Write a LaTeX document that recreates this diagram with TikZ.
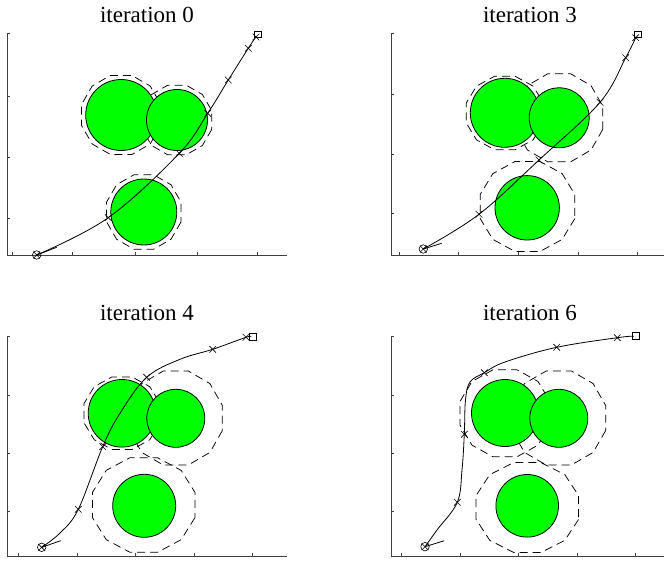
\documentclass[tikz,border=0pt]{standalone}
\usepackage{fontspec}
\setmainfont{Liberation Serif}
\usetikzlibrary{shapes.misc}

\definecolor{obsgreen}{RGB}{0,255,0}

% dashed hull round an obstacle: centre x, centre y, x radius, y radius
\newcommand{\hullpoly}[4]{%
  \draw[hull, shift={(#1,#2)}] (15:#3 and #4)
    \foreach \a in {45,75,...,345} { -- (\a:#3 and #4)} -- cycle;}

\begin{document}
\begin{tikzpicture}[x=1pt, y=-1pt,
    axis/.style={black!75, line width=0.7pt},
    hull/.style={black, line width=0.75pt, dash pattern=on 8pt off 5pt},
    obstacle/.style={draw=black, fill=obsgreen, line width=0.8pt},
    traj/.style={black, line width=0.8pt},
    wp/.style={draw, cross out, minimum size=6pt, inner sep=0pt, line width=0.6pt},
    startpt/.style={draw, circle, minimum size=8.5pt, inner sep=0pt, line width=0.6pt},
    goal/.style={draw, rectangle, minimum size=6.5pt, inner sep=0pt, line width=0.6pt},
    title/.style={font=\fontsize{23}{27}\selectfont}]

\useasboundingbox (0,0) rectangle (664,561);

% ---------------- iteration 0 ----------------
\node[title] (t0) at (147,15) {iteration 0};
\draw[axis] (7.3,33) -- (7.3,255) -- (287,255);
\foreach \y in {33,96,157,218} \draw[axis] (7.3,\y) -- ++(3,0);
\foreach \x in {12.7,72.7,135,197,257} \draw[axis] (\x,255) -- ++(0,-3);
\hullpoly{121.2}{115}{41}{41}
\hullpoly{177}{120}{36}{36}
\hullpoly{143.8}{212}{38.5}{38.5}
\draw[obstacle] (121.2,115) circle[radius=35.5pt];
\draw[obstacle] (177,120) circle[radius=30.5pt];
\draw[obstacle] (143.8,212) circle[radius=33pt];
\draw[traj] plot[smooth, tension=0.6] coordinates
  {(36.7,255) (108.3,217.7) (179.3,153.3) (207.7,113.3) (228.3,80) (248.3,48.3) (256.5,36)};
\draw[traj] (36.7,255) -- (56.7,247.3);
\node[startpt] (s0) at (36.7,255) {};
\node[wp] (x0) at (36.7,255) {};
\foreach \p [count=\i] in {(108.3,217.7),(179.3,153.3),(207.7,113.3),(228.3,80),(248.3,48.3),(256,37)}
  \node[wp] (a\i) at \p {};
\node[goal] (g0) at (257.7,34.3) {};

% ---------------- iteration 3 ----------------
\node[title] (t3) at (530,15) {iteration 3};
\draw[axis] (391.3,33) -- (391.3,255) -- (664,255);
\foreach \y in {33,94.3,154,213.3} \draw[axis] (391.3,\y) -- ++(3,0);
\foreach \x in {399,458.3,518.3,578.3,637.7} \draw[axis] (\x,255) -- ++(0,-3);
\hullpoly{504.8}{113}{40}{38}
\hullpoly{559.2}{117.8}{45}{45.5}
\hullpoly{527.5}{206.5}{49}{46.5}
\draw[obstacle] (504.8,112.8) circle[radius=34.5pt];
\draw[obstacle] (559.2,117.8) circle[radius=30pt];
\draw[obstacle] (527.2,207.8) circle[radius=32.2pt];
\draw[traj] plot[smooth, tension=0.6] coordinates
  {(423.3,249) (479,214.3) (539,160) (600,102.3) (625.7,57.7) (635.7,37.7)};
\draw[traj] (423.3,249) -- (441.7,243.3);
\node[startpt] (s3) at (423.3,249) {};
\node[wp] (x3) at (423.3,249) {};
\foreach \p [count=\i] in {(479,214.3),(539,160),(600,102.3),(625.7,57.7),(635.7,37.7)}
  \node[wp] (b\i) at \p {};
\node[goal] (g3) at (637.7,34.3) {};

% ---------------- iteration 4 ----------------
\node[title] (t4) at (147,313) {iteration 4};
\draw[axis] (7.3,336.7) -- (7.3,556) -- (287,556);
\foreach \y in {336.7,395,453.3,511.7} \draw[axis] (7.3,\y) -- ++(3,0);
\foreach \x in {18.3,77.3,135.7,194,252.3} \draw[axis] (\x,556) -- ++(0,-3);
\hullpoly{122}{413.2}{39.3}{37.5}
\hullpoly{175.8}{418}{48.2}{48.7}
\hullpoly{143.7}{505}{53}{49}
\draw[obstacle] (122,413.3) circle[radius=33.8pt];
\draw[obstacle] (175.8,418.3) circle[radius=29pt];
\draw[obstacle] (144.2,505.8) circle[radius=31.5pt];
\draw[traj] plot[smooth, tension=0.6] coordinates
  {(41.7,547.3) (60,533) (78.3,509.3) (102.7,446.7) (120,413.3) (146.7,377.3) (180,359.3) (212.7,349.3) (246,337.3) (251,336.7)};
\draw[traj] (41.7,547.3) -- (60.7,540.7);
\node[startpt] (s4) at (41.7,547.3) {};
\node[wp] (x4) at (41.7,547.3) {};
\foreach \p [count=\i] in {(78.3,509.3),(102.7,446.7),(146.7,377.3),(212.7,349.3),(246,337.3)}
  \node[wp] (c\i) at \p {};
\node[goal] (g4) at (252.7,336.7) {};

% ---------------- iteration 6 ----------------
\node[title] (t6) at (530,313) {iteration 6};
\draw[axis] (391.3,336.7) -- (391.3,556) -- (664,556);
\foreach \y in {336.7,395,453.3,511.7} \draw[axis] (391.3,\y) -- ++(3,0);
\foreach \x in {401.3,460.3,518.7,577,635.3} \draw[axis] (\x,556) -- ++(0,-3);
\hullpoly{505}{413.3}{46.7}{45}
\hullpoly{558.8}{418}{48.5}{48.7}
\hullpoly{527.3}{507.5}{53}{46.5}
\draw[obstacle] (505,413) circle[radius=33.5pt];
\draw[obstacle] (558.8,418.3) circle[radius=29pt];
\draw[obstacle] (527.2,505.8) circle[radius=31.3pt];
\draw[traj] plot[smooth, tension=0.6] coordinates
  {(425,546.7) (437,530) (457.3,502.3) (462,470) (464.3,434.3) (465.5,400) (470,382) (484.3,372.7) (505,362) (556.7,347.3) (617.3,337.7) (634,336.2)};
\draw[traj] (425,546.7) -- (444.3,540.7);
\node[startpt] (s6) at (425,546.7) {};
\node[wp] (x6) at (425,546.7) {};
\foreach \p [count=\i] in {(457.3,502.3),(464.3,434.3),(484.3,372.7),(556.7,347.3),(617.3,337.7)}
  \node[wp] (d\i) at \p {};
\node[goal] (g6) at (635.7,336) {};

\end{tikzpicture}
\end{document}
